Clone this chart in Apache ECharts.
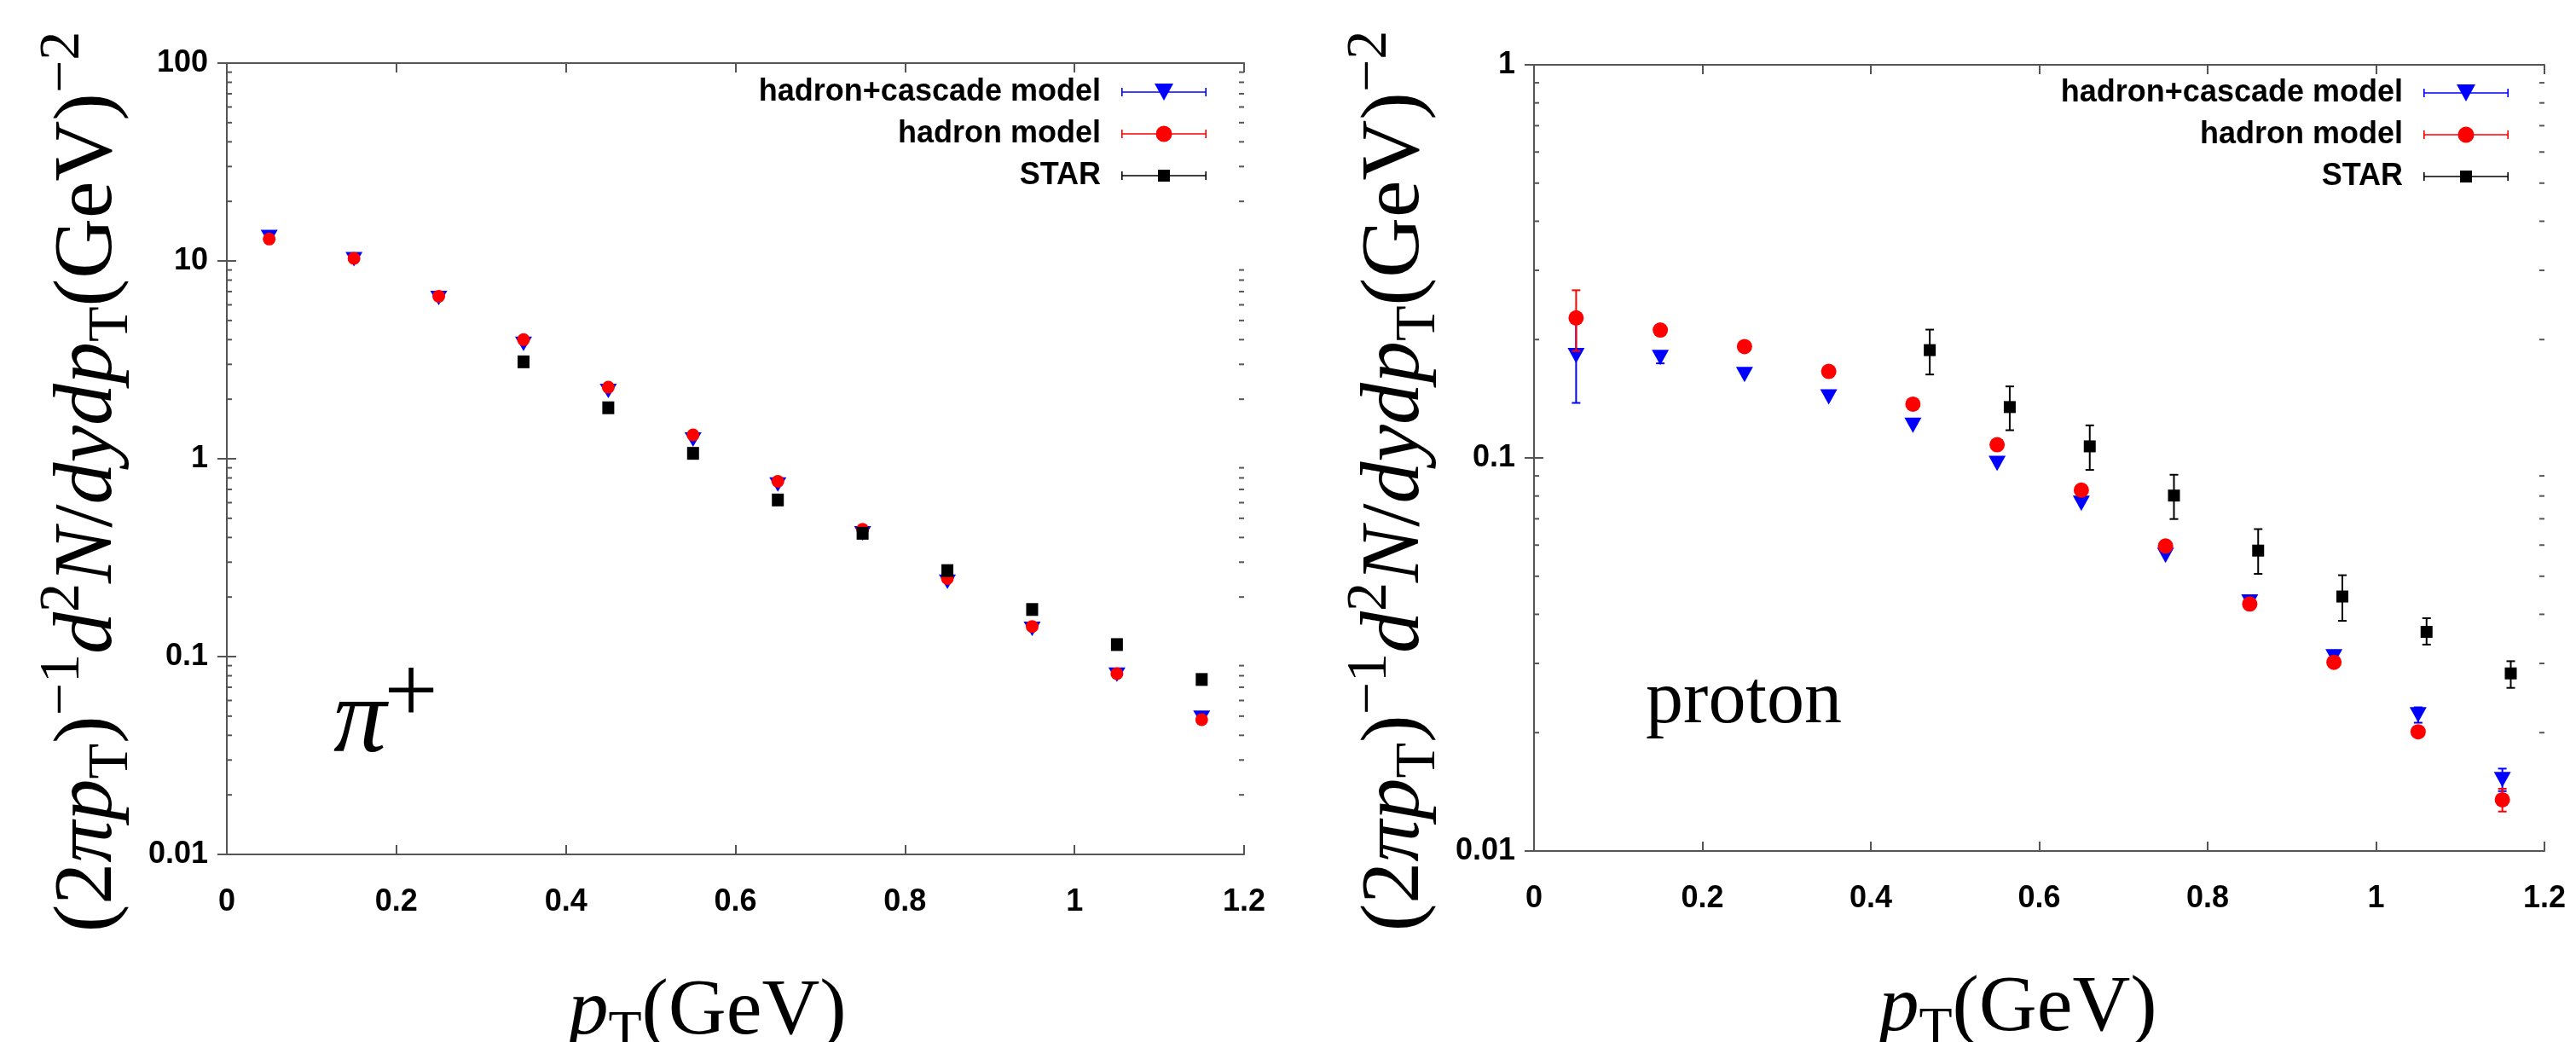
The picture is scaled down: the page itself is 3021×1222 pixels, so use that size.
<!DOCTYPE html>
<html>
<head>
<meta charset="utf-8">
<title>pT spectra</title>
<script src="https://cdn.jsdelivr.net/npm/echarts@6/dist/echarts.min.js"></script>
<style>
    html, body { margin: 0; padding: 0; background: #fff; }
    #main { width: 3021px; height: 1222px; }
</style>
</head>
<body>
<div id="main"></div>
<script>
// pT bin centres (GeV)
var ptBins = [0.05, 0.15, 0.25, 0.35, 0.45, 0.55, 0.65, 0.75, 0.85, 0.95, 1.05, 1.15];

// pi+ spectra
var pionCascade = [13.2, 10.2, 6.5, 3.81, 2.2, 1.25, 0.74, 0.42, 0.239, 0.138, 0.081, 0.049];
var pionHadron = [12.9, 10.3, 6.63, 4.0, 2.3, 1.32, 0.769, 0.44, 0.248, 0.142, 0.082, 0.048];
var pionStarPt = [0.35, 0.45, 0.55, 0.65, 0.75, 0.85, 0.95, 1.05, 1.15];
var pionStar = [3.09, 1.81, 1.065, 0.619, 0.42, 0.272, 0.173, 0.115, 0.0766];

// proton spectra
var protonCascade = [0.182, 0.18, 0.163, 0.143, 0.121, 0.0968, 0.0766, 0.0565, 0.043, 0.0312, 0.0222, 0.0152];
var protonCascadeErr = [0.044, 0.006, 0, 0, 0, 0, 0, 0, 0, 0.0005, 0.001, 0.001];
var protonHadron = [0.227, 0.2115, 0.192, 0.166, 0.137, 0.108, 0.0828, 0.0597, 0.0425, 0.0302, 0.0201, 0.0135];
var protonHadronErr = [0.04, 0, 0, 0, 0, 0, 0, 0, 0.0005, 0, 0, 0.0009];
var protonStarPt = [0.47, 0.565, 0.66, 0.76, 0.86, 0.96, 1.06, 1.16];
var protonStar = [0.188, 0.1347, 0.107, 0.0802, 0.0581, 0.0444, 0.0361, 0.0283];
var protonStarLo = [0.163, 0.1176, 0.0932, 0.0699, 0.0507, 0.0385, 0.0335, 0.026];
var protonStarHi = [0.212, 0.152, 0.121, 0.0906, 0.0659, 0.0503, 0.0391, 0.0304];

// decades that get 2..9 minor ticks
var pionDecades = [0.01, 0.1, 1, 10];
var protonDecades = [0.01, 0.1];

var names = ['hadron+cascade model', 'hadron model', 'STAR'];
var blue = '#0000ff', red = '#ff0000', black = '#000000';
var frame = '#555555';

function zip(xs, ys) {
    return xs.map(function (x, i) { return [x, ys[i]]; });
}
function errData(xs, ys, err) {
    return xs.map(function (x, i) { return [x, ys[i] - err[i], ys[i] + err[i]]; });
}
// one item per edge: [x at that edge, value]
function minorValues(decades) {
    var out = [];
    decades.forEach(function (d) {
        for (var k = 2; k <= 9; k++) {
            out.push([0, k * d]);
            out.push([1.2, k * d]);
        }
    });
    return out;
}

function errorBarRender(color) {
    return function (params, api) {
        var x = api.value(0);
        var lo = api.coord([x, api.value(1)]);
        var hi = api.coord([x, api.value(2)]);
        if (Math.abs(lo[1] - hi[1]) < 1) return null;
        var c = 5;
        var st = { stroke: color, lineWidth: 2 };
        return {
            type: 'group',
            children: [
                { type: 'line', shape: { x1: lo[0], y1: lo[1], x2: hi[0], y2: hi[1] }, style: st },
                { type: 'line', shape: { x1: lo[0] - c, y1: lo[1], x2: lo[0] + c, y2: lo[1] }, style: st },
                { type: 'line', shape: { x1: hi[0] - c, y1: hi[1], x2: hi[0] + c, y2: hi[1] }, style: st }
            ]
        };
    };
}

// short inner tick at the plot edge
function minorTickRender(params, api) {
    var p = api.coord([api.value(0), api.value(1)]);
    var dir = api.value(0) > 0.6 ? -1 : 1;
    return {
        type: 'line',
        shape: { x1: p[0], y1: p[1], x2: p[0] + dir * 6, y2: p[1] },
        style: { stroke: frame, lineWidth: 2 }
    };
}

var serif = 'Liberation Serif';
var yName = '{r|(2}{i|πp}{sub|T}{r|)}{sup|−1}{i|d}{sup|2}{i|N}{r|/}{i|dydp}{sub|T}{r|(GeV)}{sup|−2}';
var xName = '{i|p}{sub|T}{r|(GeV)}';
function yRich() {
    return {
        r: { fontFamily: serif, fontSize: 98, color: '#000' },
        i: { fontFamily: serif, fontStyle: 'italic', fontSize: 98, color: '#000' },
        sup: { fontFamily: serif, fontSize: 68, color: '#000', padding: [0, 0, 60, 0] },
        sub: { fontFamily: serif, fontSize: 68, color: '#000', padding: [54, 0, 0, 0] }
    };
}
function xRich() {
    return {
        r: { fontFamily: serif, fontSize: 94, color: '#000' },
        i: { fontFamily: serif, fontStyle: 'italic', fontSize: 94, color: '#000' },
        sub: { fontFamily: serif, fontSize: 64, color: '#000', padding: [50, 0, 0, 0] }
    };
}

var tickLabel = { fontFamily: 'Liberation Sans', fontWeight: 'bold', fontSize: 36, color: '#000' };

function xAxes(gi, shiftLeft) {
    var base = {
        type: 'value', gridIndex: gi, min: 0, max: 1.2, interval: 0.2,
        axisLine: { show: true, lineStyle: { color: frame, width: 2 } },
        axisTick: { show: true, inside: true, length: 11, lineStyle: { color: frame, width: 2 } },
        splitLine: { show: false }
    };
    var bottom = Object.assign({}, base, {
        position: 'bottom',
        axisLabel: Object.assign({ margin: 38 }, tickLabel),
        name: xName, nameLocation: 'middle', nameGap: 128,
        nameTextStyle: { rich: xRich(), padding: [0, shiftLeft, 0, 0] }
    });
    var top = Object.assign({}, base, { position: 'top', axisLabel: { show: false } });
    return [bottom, top];
}
function yAxes(gi, min, max) {
    var base = {
        type: 'log', logBase: 10, gridIndex: gi, min: min, max: max,
        axisLine: { show: true, lineStyle: { color: frame, width: 2 } },
        axisTick: { show: true, inside: true, length: 11, lineStyle: { color: frame, width: 2 } },
        splitLine: { show: false }
    };
    var left = Object.assign({}, base, {
        position: 'left',
        axisLabel: Object.assign({ margin: 22 }, tickLabel),
        name: yName, nameLocation: 'middle', nameRotate: 90, nameGap: 98,
        nameTextStyle: { rich: yRich(), padding: [0, 54, 0, 0] }
    });
    var right = Object.assign({}, base, { position: 'right', axisLabel: { show: false } });
    return [left, right];
}

var icoLine = 'M0,9.2L100,9.2L100,10.8L0,10.8Z M0,5L1.6,5L1.6,15L0,15Z M98.4,5L100,5L100,15L98.4,15Z ';
var icons = [
    'path://' + icoLine + 'M39,0L61,0L50,20Z',
    'path://' + icoLine + 'M59.5,10A9.5,9.5 0 1,1 40.5,10A9.5,9.5 0 1,1 59.5,10Z',
    'path://' + icoLine + 'M43,3L57,3L57,17L43,17Z'
];
function legend(right, top) {
    return {
        orient: 'vertical', align: 'right', right: right, top: top, padding: 0,
        itemWidth: 100, itemHeight: 20, itemGap: 13,
        selectedMode: false,
        textStyle: { fontFamily: 'Liberation Sans', fontWeight: 'bold', fontSize: 36, color: '#000',
            lineHeight: 36, padding: [0, 19, 0, 0] },
        data: names.map(function (n, i) { return { name: n, icon: icons[i] }; })
    };
}

function panelSeries(gi, ax, cascade, hadron, starPt, star, sz, errs) {
    var s = [];
    s.push({ type: 'custom', name: 'minor' + gi, xAxisIndex: ax, yAxisIndex: ax, data: errs.minor,
        encode: { x: 0, y: 1 }, renderItem: minorTickRender, silent: true, clip: false, z: 1 });
    if (errs.cascade) s.push({ type: 'custom', name: 'e1' + gi, xAxisIndex: ax, yAxisIndex: ax,
        data: errs.cascade, encode: { x: 0, y: [1, 2] }, renderItem: errorBarRender(blue), z: 2 });
    s.push({ type: 'scatter', name: names[0], xAxisIndex: ax, yAxisIndex: ax, data: zip(ptBins, cascade),
        symbol: 'triangle', symbolRotate: 180, symbolSize: sz.tri, itemStyle: { color: blue, opacity: 1 }, z: 3 });
    if (errs.hadron) s.push({ type: 'custom', name: 'e2' + gi, xAxisIndex: ax, yAxisIndex: ax,
        data: errs.hadron, encode: { x: 0, y: [1, 2] }, renderItem: errorBarRender(red), z: 4 });
    s.push({ type: 'scatter', name: names[1], xAxisIndex: ax, yAxisIndex: ax, data: zip(ptBins, hadron),
        symbol: 'circle', symbolSize: sz.circ, itemStyle: { color: red, opacity: 1 }, z: 5 });
    if (errs.star) s.push({ type: 'custom', name: 'e3' + gi, xAxisIndex: ax, yAxisIndex: ax,
        data: errs.star, encode: { x: 0, y: [1, 2] }, renderItem: errorBarRender(black), z: 6 });
    s.push({ type: 'scatter', name: names[2], xAxisIndex: ax, yAxisIndex: ax, data: zip(starPt, star),
        symbol: 'rect', symbolSize: sz.sq, itemStyle: { color: black, opacity: 1 }, z: 7 });
    return s;
}

var chart = echarts.init(document.getElementById('main'), null, { renderer: 'canvas' });

var pionX = xAxes(0, 66), protonX = xAxes(1, 50);
var pionY = yAxes(0, 0.01, 100), protonY = yAxes(1, 0.01, 1);

var option = {
    backgroundColor: '#fff',
    animation: false,
    grid: [
        { left: 266, top: 74, width: 1193, height: 928, containLabel: false, outerBoundsMode: 'none' },
        { left: 1799, top: 76, width: 1185, height: 922, containLabel: false, outerBoundsMode: 'none' }
    ],
    xAxis: [pionX[0], pionX[1], protonX[0], protonX[1]],
    yAxis: [pionY[0], pionY[1], protonY[0], protonY[1]],
    legend: [legend(1606, 90), legend(79, 91)],
    graphic: [
        { type: 'text', x: 422, y: 848, style: { text: 'π', fontFamily: serif, fontStyle: 'italic',
            fontSize: 124, fill: '#000', align: 'center', verticalAlign: 'middle' } },
        { type: 'text', x: 482, y: 818, style: { text: '+', fontFamily: serif,
            fontSize: 112, fill: '#000', align: 'center', verticalAlign: 'middle' } },
        { type: 'text', x: 2045, y: 824, style: { text: 'proton', fontFamily: serif,
            fontSize: 88, fill: '#000', align: 'center', verticalAlign: 'middle' } }
    ],
    series: [].concat(
        panelSeries(0, 0, pionCascade, pionHadron, pionStarPt, pionStar,
            { tri: [20, 17], circ: 15, sq: [14, 15] },
            { minor: minorValues(pionDecades) }),
        panelSeries(1, 2, protonCascade, protonHadron, protonStarPt, protonStar,
            { tri: [20, 18], circ: 18, sq: 14 },
            {
                minor: minorValues(protonDecades),
                cascade: errData(ptBins, protonCascade, protonCascadeErr),
                hadron: errData(ptBins, protonHadron, protonHadronErr),
                star: protonStarPt.map(function (x, i) { return [x, protonStarLo[i], protonStarHi[i]]; })
            })
    )
};
chart.setOption(option);
</script>
</body>
</html>
